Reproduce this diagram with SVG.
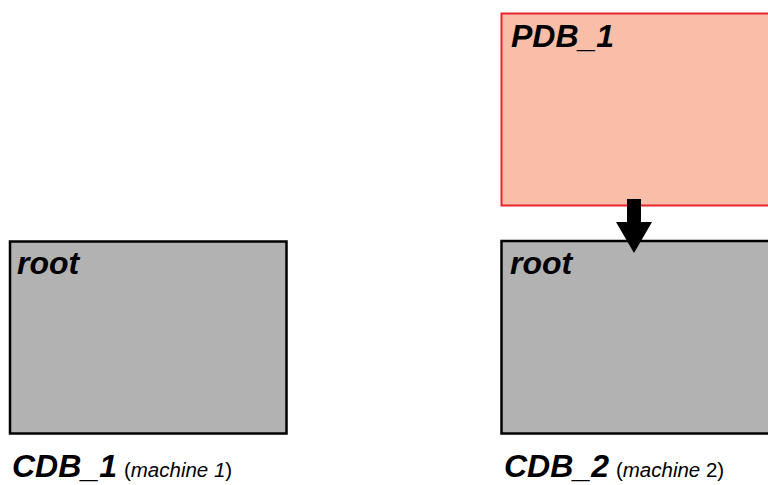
<svg xmlns="http://www.w3.org/2000/svg" width="768" height="485" viewBox="0 0 768 485">
<style>
.box{fill:#b2b2b2;stroke:#000;stroke-width:2.5}
.pdb{fill:#f8bea8;stroke:#e8242c;stroke-width:2}
.t{font-family:"Liberation Sans",Arial,sans-serif;font-weight:bold;font-style:italic;font-size:32px;fill:#000}
.s{font-family:"Liberation Sans",Arial,sans-serif;font-size:20.5px;fill:#000}
.i{font-style:italic}
</style>
<rect width="768" height="485" fill="#fff"/>
<g id="cdb1">
<rect class="box" x="10" y="241.5" width="276.5" height="192"/>
<text class="t" x="17" y="274">root</text>
<text x="12" y="477"><tspan class="t">CDB_1</tspan><tspan class="s" dx="7">(</tspan><tspan class="s i">machine 1</tspan><tspan class="s">)</tspan></text>
</g>
<g id="pdb1">
<rect class="pdb" x="501.5" y="13.5" width="270" height="192"/>
<text class="t" x="511" y="47">PDB_1</text>
</g>
<g id="cdb2">
<rect class="box" x="501.5" y="241" width="270" height="192.5"/>
<text class="t" x="510" y="274">root</text>
<text x="504" y="477"><tspan class="t">CDB_2</tspan><tspan class="s" dx="7">(</tspan><tspan class="s i">machine</tspan><tspan class="s"> 2)</tspan></text>
</g>
<g id="connectors">
<polygon points="627,199 641,199 641,222 652,222 634,253 616,222 627,222" fill="#000"/>
</g>
</svg>
